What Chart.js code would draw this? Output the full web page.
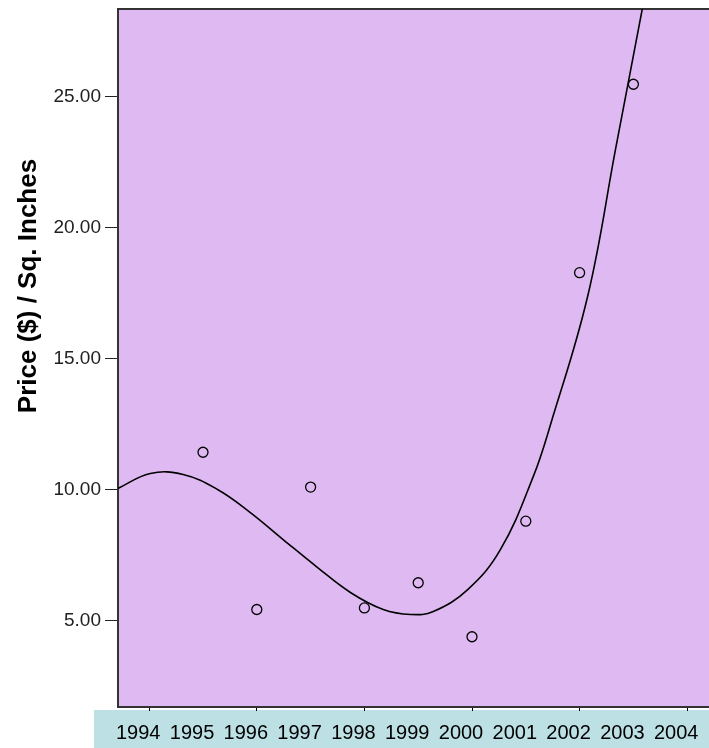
<!DOCTYPE html>
<html>
<head>
<meta charset="utf-8">
<script src="https://cdn.jsdelivr.net/npm/chart.js@4"></script>
<style>
    html, body { margin: 0; padding: 0; background: #fff; overflow: hidden; }
    #wrap { position: absolute; left: 0; top: 0; width: 751px; height: 748px; }
</style>
</head>
<body>
<div id="wrap"><canvas id="precioChart" width="751" height="748"></canvas></div>
<script>
// Datos
const years = [1994, 1995, 1996, 1997, 1998, 1999, 2000, 2001, 2002, 2003, 2004];
const yearLabels = ['1994', '1995', '1996', '1997', '1998', '1999', '2000', '2001', '2002', '2003', '2004'];
const priceYears = [1995, 1996, 1997, 1998, 1999, 2000, 2001, 2002, 2003];
const prices = [11.42, 5.42, 10.09, 5.48, 6.44, 4.38, 8.79, 18.27, 25.46];
// curva de ajuste (leida punto a punto)
const fitYears = [1993.42, 1994.02, 1994.63, 1995.27, 1995.88, 1996.49, 1997.13, 1997.74, 1998.35, 1998.86,
                  1999.28, 1999.92, 2000.53, 2001.14, 2001.46, 2002.15, 2002.67, 2003.19];
const fitValues = [10.04, 10.61, 10.57, 10.0, 9.12, 8.09, 7.02, 6.07, 5.42, 5.23,
                   5.34, 6.18, 7.71, 10.5, 12.48, 17.37, 23.0, 28.6];
const yTicks = [5, 10, 15, 20, 25];
const yTitle = 'Price ($) / Sq. Inches';

const FONT = '"Liberation Sans", Arial, sans-serif';

/**
 * Fondo del area, franja de etiquetas y titulo del eje Y
 */
const fondoPlugin = {
    id: 'fondo',
    beforeDraw(chart) {
        const { ctx, chartArea } = chart;
        ctx.save();
        ctx.fillStyle = '#bde0e4';
        ctx.fillRect(94, chartArea.bottom + 3, chart.width - 94, chart.height - chartArea.bottom - 3);
        ctx.fillStyle = '#dfbaf2';
        ctx.fillRect(chartArea.left, chartArea.top, chartArea.right - chartArea.left, chartArea.bottom - chartArea.top);
        ctx.restore();
    },
    afterDraw(chart) {
        const ctx = chart.ctx;
        ctx.save();
        ctx.translate(29, 286);
        ctx.rotate(-Math.PI / 2);
        ctx.fillStyle = '#000';
        ctx.font = 'bold 26px ' + FONT;
        ctx.textAlign = 'center';
        ctx.textBaseline = 'middle';
        ctx.fillText(yTitle, 0, 0);
        ctx.restore();
    }
};

const ctx = document.getElementById('precioChart').getContext('2d');

new Chart(ctx, {
    type: 'scatter',
    data: {
        datasets: [
            {
                label: 'Ajuste',
                type: 'line',
                data: fitYears.map((x, i) => ({ x: x, y: fitValues[i] })),
                borderColor: '#000',
                borderWidth: 1.6,
                pointRadius: 0,
                tension: 0.4,
                fill: false
            },
            {
                label: 'Precio',
                data: priceYears.map((x, i) => ({ x: x, y: prices[i] })),
                pointStyle: 'circle',
                pointRadius: 5,
                pointBorderColor: '#000',
                pointBorderWidth: 1.3,
                pointBackgroundColor: 'rgba(0,0,0,0)'
            }
        ]
    },
    options: {
        responsive: false,
        animation: false,
        layout: { padding: { left: 0, right: 10, top: 0, bottom: 0 } },
        plugins: {
            legend: { display: false },
            tooltip: { enabled: false }
        },
        scales: {
            x: {
                type: 'linear',
                position: 'bottom',
                min: 1993.42,
                max: 2005,
                afterBuildTicks: s => { s.ticks = years.map(v => ({ value: v })); },
                afterFit: s => { s.height = 41; s.paddingLeft = 0; s.paddingRight = 0; },
                grid: {
                    drawOnChartArea: false,
                    tickLength: 4,
                    tickColor: c => (c.tick && c.tick.value % 2 === 0) ? '#000' : 'rgba(0,0,0,0)'
                },
                border: { color: '#333', width: 2 },
                ticks: {
                    autoSkip: false,
                    maxRotation: 0,
                    padding: 10,
                    labelOffset: -11,
                    color: '#000',
                    font: { family: FONT, size: 20 },
                    callback: v => yearLabels[years.indexOf(v)]
                }
            },
            xTop: {
                type: 'linear',
                position: 'top',
                min: 1993.42,
                max: 2005,
                afterFit: s => { s.height = 9; s.paddingLeft = 0; s.paddingRight = 0; },
                grid: { drawOnChartArea: false, drawTicks: false },
                border: { color: '#333', width: 2 },
                ticks: { display: false }
            },
            y: {
                min: 1.70,
                max: 28.33,
                afterBuildTicks: s => { s.ticks = yTicks.map(v => ({ value: v })); },
                afterFit: s => { s.width = 118; s.paddingTop = 0; s.paddingBottom = 0; },
                grid: { drawOnChartArea: false, tickLength: 13, tickColor: '#222' },
                border: { color: '#333', width: 2 },
                ticks: {
                    padding: 4,
                    color: '#222',
                    font: { family: FONT, size: 19 },
                    callback: v => v.toFixed(2)
                }
            }
        }
    },
    plugins: [fondoPlugin]
});
</script>
</body>
</html>
